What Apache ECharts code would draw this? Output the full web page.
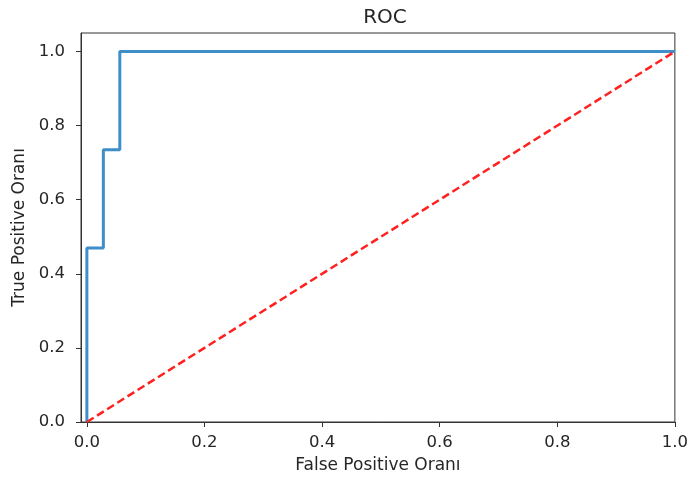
<!DOCTYPE html>
<html lang="tr">
<head>
    <meta charset="UTF-8">
    <title>ROC</title>
    <style>
        html, body { margin: 0; padding: 0; background: #fff; }
    </style>
</head>
<body>
<div id="chart" style="width:691px; height:484px;"></div>
<script src="https://cdn.jsdelivr.net/npm/echarts@6/dist/echarts.min.js"></script>
<script>
    // ROC curve points
    var fpr = [0, 0, 0.028, 0.028, 0.056, 0.056, 1.0]
    var tpr = [0, 0.47, 0.47, 0.735, 0.735, 1.0, 1.0]
    // chance line
    var diagX = [0, 1]
    var diagY = [0, 1]
    var tickValues = [0, 0.2, 0.4, 0.6, 0.8, 1.0]

    var font = 'DejaVu Sans'
    var chart = echarts.init(document.getElementById('chart'))

    function pairs(xs, ys) {
        return xs.map(function (x, i) { return [x, ys[i]] })
    }

    var axisCommon = {
        axisLine: { show: true, onZero: false, lineStyle: { color: '#333', width: 1 } },
        axisTick: { show: true, length: 5, lineStyle: { color: '#333' }, customValues: tickValues },
        axisLabel: { color: '#262626', fontFamily: font, fontSize: 16.5, customValues: tickValues,
            formatter: function (v) { return v.toFixed(1) } },
        splitLine: { show: false },
        nameTextStyle: { color: '#262626', fontFamily: font, fontSize: 17 }
    }

    chart.setOption({
        animation: false,
        title: {
            text: 'ROC',
            left: 380, top: 3, textAlign: 'center',
            textStyle: { fontFamily: font, fontSize: 20, fontWeight: 'normal', color: '#262626' }
        },
        grid: {
            left: 81, right: 11, top: 33, bottom: 62,
            show: true, borderColor: '#333', borderWidth: 1
        },
        xAxis: Object.assign({}, axisCommon, {
            type: 'value', min: -0.01, max: 1.0,
            name: 'False Positive Oranı', nameLocation: 'middle', nameGap: 35,
            axisLabel: Object.assign({}, axisCommon.axisLabel, { margin: 12 })
        }),
        yAxis: Object.assign({}, axisCommon, {
            type: 'value', min: 0, max: 1.05,
            name: 'True Positive Oranı', nameLocation: 'middle', nameGap: 52,
            axisLabel: Object.assign({}, axisCommon.axisLabel, { margin: 16 })
        }),
        series: [
            {
                type: 'line',
                data: pairs(fpr, tpr),
                showSymbol: false,
                lineStyle: { color: '#3d8ec9', width: 3 },
                z: 3
            },
            {
                type: 'line',
                data: pairs(diagX, diagY),
                showSymbol: false,
                lineStyle: { color: '#ff2020', width: 2.5, type: [8, 4] },
                z: 4
            }
        ]
    })
</script>
</body>
</html>
